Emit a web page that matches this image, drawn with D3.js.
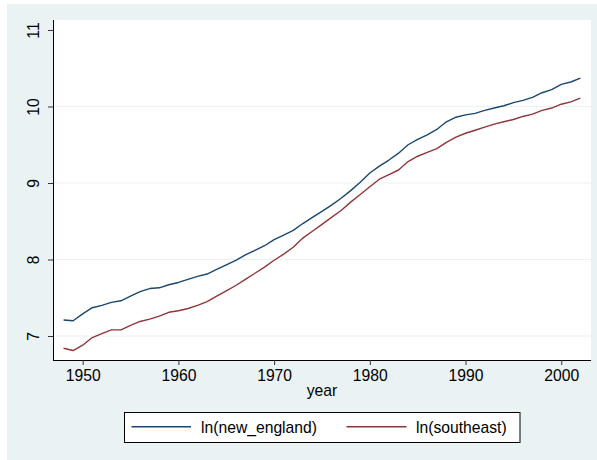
<!DOCTYPE html>
<html>
<head>
<meta charset="utf-8">
<script src="https://cdn.jsdelivr.net/npm/d3@7"></script>
<style>
html,body{margin:0;padding:0;background:#fff;}
svg{display:block;font-family:"Liberation Sans",Arial,Helvetica,sans-serif;}
</style>
</head>
<body>
<svg id="chart" width="597" height="460"></svg>
<script>
const years = d3.range(1948, 2003);
const newEngland = [7.21,7.20,7.29,7.37,7.40,7.44,7.46,7.52,7.58,7.62,
  7.63,7.67,7.70,7.74,7.78,7.81,7.87,7.93,7.99,8.06,
  8.12,8.18,8.26,8.32,8.38,8.47,8.55,8.63,8.71,8.80,
  8.90,9.01,9.13,9.22,9.30,9.39,9.50,9.57,9.63,9.70,
  9.80,9.86,9.89,9.91,9.95,9.98,10.01,10.05,10.08,10.12,
  10.18,10.22,10.29,10.32,10.37];
const southeast = [6.84,6.81,6.88,6.98,7.03,7.08,7.08,7.14,7.19,7.22,
  7.26,7.31,7.33,7.36,7.40,7.45,7.52,7.59,7.66,7.74,
  7.82,7.90,7.99,8.07,8.16,8.28,8.37,8.46,8.55,8.64,
  8.75,8.85,8.95,9.05,9.11,9.17,9.28,9.35,9.40,9.45,
  9.53,9.60,9.65,9.69,9.73,9.77,9.80,9.83,9.87,9.90,
  9.95,9.98,10.03,10.06,10.11];
const yTicks = [7, 8, 9, 10, 11];
const yGrid = [7, 8, 9, 10];
const xTicks = [1950, 1960, 1970, 1980, 1990, 2000];
const seriesNames = ["ln(new_england)", "ln(southeast)"];
const seriesColors = ["#1a476f", "#90353b"];

const svg = d3.select("#chart");
const FS = "15.7px";
const plot = {l: 53, t: 20, r: 591, b: 360};

svg.append("rect").attr("x", 7).attr("y", 4).attr("width", 590).attr("height", 456).attr("fill", "#eaf2f3");
svg.append("rect").attr("x", plot.l).attr("y", plot.t).attr("width", plot.r - plot.l).attr("height", plot.b - plot.t).attr("fill", "#ffffff");

const x = d3.scaleLinear().domain([1946.897, 2003.11]).range([plot.l, plot.r]);
const y = d3.scaleLinear().domain([6.6863, 11.1307]).range([plot.b, plot.t]);

// grid
svg.append("g").selectAll("line").data(yGrid).join("line")
  .attr("x1", plot.l).attr("x2", plot.r)
  .attr("y1", d => y(d)).attr("y2", d => y(d))
  .attr("stroke", "#eaf2f3").attr("stroke-width", 1.2);

// lines
const series = [newEngland, southeast];
const line = d3.line().x((d, i) => x(years[i])).y(d => y(d));
series.forEach((s, k) => {
  svg.append("path").datum(s).attr("d", line)
    .attr("fill", "none").attr("stroke", seriesColors[k]).attr("stroke-width", 1.4)
    .attr("stroke-linejoin", "round");
});

// y axis
const yAxis = svg.append("g").attr("transform", `translate(${plot.l},0)`)
  .call(d3.axisLeft(y).tickValues(yTicks).tickSize(5).tickSizeOuter(0).tickFormat(d3.format("d")));
yAxis.select(".domain").attr("stroke", "#000").attr("d", `M0.5,${plot.t}V${plot.b}`);
yAxis.selectAll(".tick line").attr("stroke", "#333");
yAxis.selectAll(".tick text")
  .attr("x", null).attr("dy", null)
  .attr("transform", "translate(-14.5,0) rotate(-90)")
  .attr("text-anchor", "middle")
  .attr("font-size", FS).attr("font-family", null).attr("fill", "#000");

// x axis
const xAxis = svg.append("g").attr("transform", `translate(0,${plot.b})`)
  .call(d3.axisBottom(x).tickValues(xTicks).tickSize(5).tickSizeOuter(0).tickFormat(d3.format("d")));
xAxis.select(".domain").attr("stroke", "#000").attr("d", `M${plot.l},0.5H${plot.r}`);
xAxis.selectAll(".tick line").attr("stroke", "#333");
xAxis.selectAll(".tick text")
  .attr("y", 21).attr("dy", null)
  .attr("font-size", FS).attr("font-family", null).attr("fill", "#000");

// x title
svg.append("text").attr("x", (plot.l + plot.r) / 2).attr("y", 396)
  .attr("text-anchor", "middle").attr("font-size", FS).text("year");

// legend
svg.append("rect").attr("x", 124.5).attr("y", 412.5).attr("width", 395.5).attr("height", 30)
  .attr("fill", "#fff").attr("stroke", "#000").attr("stroke-width", 1);
const legItems = [{x1: 131.5, x2: 191, tx: 201}, {x1: 346.5, x2: 406.5, tx: 416}];
legItems.forEach((it, k) => {
  svg.append("line").attr("x1", it.x1).attr("x2", it.x2).attr("y1", 426.7).attr("y2", 426.7)
    .attr("stroke", seriesColors[k]).attr("stroke-width", 1.4);
  svg.append("text").attr("x", it.tx).attr("y", 432.5).attr("font-size", FS).text(seriesNames[k]);
});
</script>
</body>
</html>
